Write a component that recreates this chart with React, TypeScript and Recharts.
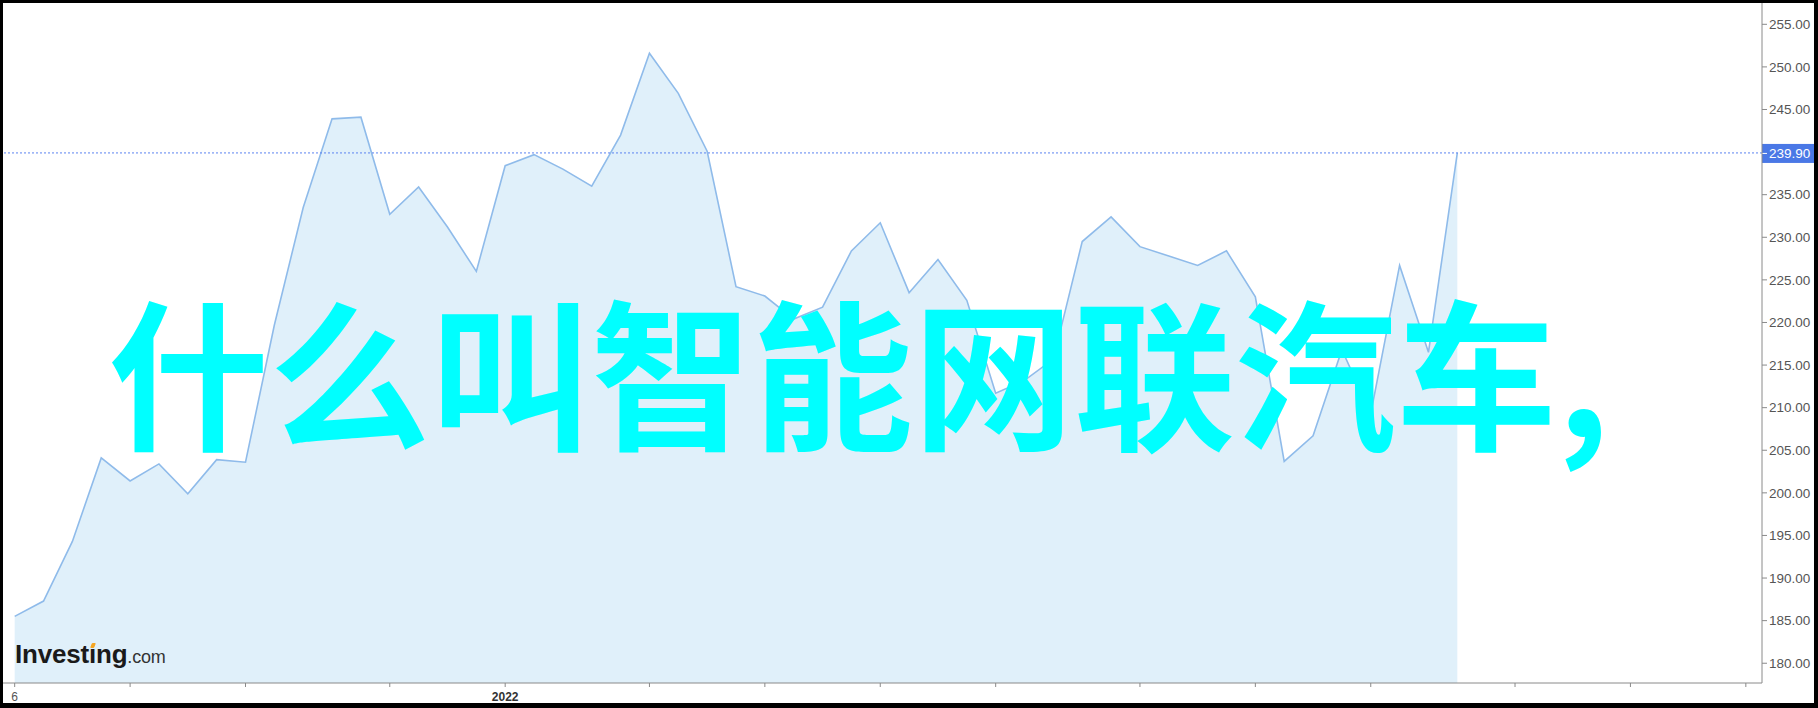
import React from 'react';
import { ComposedChart, Area, XAxis, YAxis, ReferenceLine } from 'recharts';

const weekIndex = [
  0, 1, 2, 3, 4, 5, 6, 7, 8, 9, 10, 11, 12, 13, 14, 15, 16, 17, 18, 19, 20, 21, 22, 23, 24, 25,
  26, 27, 28, 29, 30, 31, 32, 33, 34, 35, 36, 37, 38, 39, 40, 41, 42, 43, 44, 45, 46, 47, 48, 49, 50,
];
const prices = [
  185.5, 187.3, 194.3, 204.1, 201.4, 203.4, 199.9, 203.9, 203.6, 219.7, 233.5, 243.9, 244.1,
  232.7, 235.9, 231.2, 226.0, 238.4, 239.7, 238.0, 236.0, 242.0, 251.6, 246.9, 240.1, 224.2,
  223.1, 220.4, 221.8, 228.4, 231.7, 223.5, 227.4, 222.6, 211.7, 213.2, 215.7, 229.5, 232.4,
  228.9, 227.8, 226.7, 228.4, 223.0, 203.7, 206.7, 216.8, 209.3, 226.7, 216.5, 239.9,
];
const xTickIndex = [0, 4, 8, 13, 17, 22, 26, 30, 34, 39, 43, 47, 52, 56, 60];
const xTickLabels = ['6', '', '', '', '2022', '', '', '', '', '', '', '', '', '', ''];
const yTicks = [180, 185, 190, 195, 200, 205, 210, 215, 220, 225, 230, 235, 240, 245, 250, 255];
const lastPrice = 239.9;
const titleText = '什么叫智能网联汽车,';

const data = weekIndex.map((i, k) => ({ i, v: prices[k] }));

const XTick = (props: any) => {
  const { x, y, payload } = props;
  const idx = xTickIndex.indexOf(payload.value);
  const label = idx >= 0 ? xTickLabels[idx] : '';
  if (!label) return null;
  const bold = label === '2022';
  return (
    <text
      x={x}
      y={y + 12}
      textAnchor="middle"
      fontFamily="'Liberation Sans', Arial, sans-serif"
      fontSize={12}
      fontWeight={bold ? 700 : 400}
      fill={bold ? '#333' : '#555'}
    >
      {label}
    </text>
  );
};

const PriceTag = (props: any) => {
  const vb = props.viewBox || {};
  const x0 = (vb.x || 0) + (vb.width || 0);
  const y0 = vb.y || 0;
  return (
    <g>
      <rect x={x0} y={y0 - 9} width={56} height={19} fill="#4a78e6" />
      <line x1={x0} x2={x0 + 5} y1={y0 + 0.5} y2={y0 + 0.5} stroke="#ffffff" strokeWidth={1} />
      <text
        x={x0 + 7}
        y={y0 + 5}
        fontFamily="'Liberation Sans', Arial, sans-serif"
        fontSize={13.5}
        fill="#ffffff"
      >
        {lastPrice.toFixed(2)}
      </text>
    </g>
  );
};

export default function App() {
  return (
    <div
      style={{
        position: 'absolute',
        left: 0,
        top: 0,
        width: 1818,
        height: 708,
        boxSizing: 'border-box',
        borderStyle: 'solid',
        borderColor: '#000',
        borderWidth: '3px 4px 5px 3px',
        background: '#fff',
        overflow: 'hidden',
      }}
    >
      <ComposedChart width={1811} height={700} data={data} margin={{ top: 0, right: 0, bottom: 0, left: 0 }}>
        <XAxis
          dataKey="i"
          type="number"
          domain={[-0.405, 60.56]}
          allowDataOverflow
          ticks={xTickIndex}
          interval={0}
          height={20}
          tickSize={4}
          tickMargin={2}
          axisLine={{ stroke: '#8a8a8a' }}
          tickLine={{ stroke: '#8a8a8a' }}
          tick={<XTick />}
        />
        <YAxis
          orientation="right"
          type="number"
          domain={[177.68, 257.5]}
          allowDataOverflow
          ticks={yTicks.filter((t) => t !== 240)}
          interval={0}
          width={52}
          tickSize={5}
          tickMargin={2}
          axisLine={{ stroke: '#8a8a8a' }}
          tickLine={{ stroke: '#8a8a8a' }}
          tickFormatter={(v: number) => v.toFixed(2)}
          tick={{ fill: '#555', fontSize: 13.5, fontFamily: "'Liberation Sans', Arial, sans-serif" }}
        />
        <Area
          type="linear"
          dataKey="v"
          stroke="#8fbbea"
          strokeWidth={1.6}
          fill="#e0f0fa"
          fillOpacity={1}
          dot={false}
          activeDot={false}
          isAnimationActive={false}
        />
        <ReferenceLine
          y={lastPrice}
          stroke="#5b82f0"
          strokeDasharray="2 2"
          strokeWidth={1}
          label={<PriceTag />}
        />
      </ComposedChart>
      <div
        style={{
          position: 'absolute',
          left: 12,
          top: 638,
          display: 'flex',
          alignItems: 'baseline',
          fontFamily: "'Liberation Sans', Arial, sans-serif",
          lineHeight: 1,
          whiteSpace: 'nowrap',
        }}
      >
        <span style={{ fontSize: 26, fontWeight: 700, color: '#1a1a1a', letterSpacing: -0.2 }}>
          Invest
          <span style={{ position: 'relative' }}>
            ı
            <span
              style={{
                position: 'absolute',
                left: 2,
                top: 4,
                width: 4,
                height: 5,
                background: '#f5a623',
                transform: 'skewX(-20deg)',
                borderRadius: 1,
              }}
            />
          </span>
          ng
        </span>
        <span style={{ fontSize: 18, color: '#333', letterSpacing: -0.2 }}>.com</span>
      </div>
      <div
        style={{
          position: 'absolute',
          left: 105,
          top: 284,
          fontFamily: "'Noto Sans CJK SC', sans-serif",
          fontSize: 161,
          fontWeight: 700,
          lineHeight: 1,
          color: '#00ffff',
          whiteSpace: 'nowrap',
        }}
      >
        {titleText}
      </div>
    </div>
  );
}
